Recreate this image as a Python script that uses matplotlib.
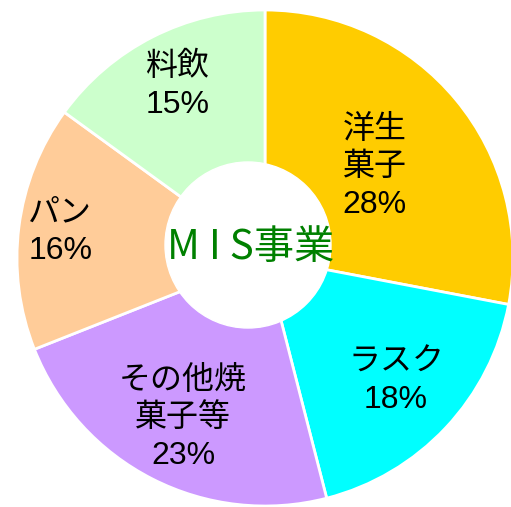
import numpy as np
import matplotlib.pyplot as plt

plt.rcParams['font.family'] = ['Liberation Sans', 'Noto Sans CJK JP', 'DejaVu Sans']

labels = ["洋生\n菓子", "ラスク", "その他焼\n菓子等", "パン", "料飲"]
shares = [28, 18, 23, 16, 15]
colors = ["#FFCC00", "#00FFFF", "#CC99FF", "#FFCC99", "#CCFFCC"]
center_label = "M I S事業"

W, H = 511, 507
fig = plt.figure(figsize=(W / 100, H / 100), dpi=100)
ax = fig.add_axes([0, 0, 1, 1])

cx, cy, R = 265, H - 258, 248
wedges, _ = ax.pie(shares, colors=colors, startangle=90, counterclock=False,
                   center=(cx, cy), radius=R, frame=True,
                   wedgeprops=dict(edgecolor='white', linewidth=2))
ax.set_xlim(0, W)
ax.set_ylim(0, H)
ax.set_aspect('equal')
ax.axis('off')

# hole, slightly off-centre like the original
ax.add_patch(plt.Circle((248, H - 245), 83, color='white', zorder=3))
ax.text(251, H - 248, center_label, color='#008000', fontsize=29,
        family=['Noto Sans CJK JP'],
        ha='center', va='center', zorder=4)

rfrac = [0.573, 0.725, 0.726, 0.832, 0.78]
for w, lab, s, rf in zip(wedges, labels, shares, rfrac):
    ang = np.deg2rad((w.theta1 + w.theta2) / 2)
    x = cx + R * rf * np.cos(ang)
    y = cy + R * rf * np.sin(ang)
    ax.text(x, y, f"{lab}\n{s}%", fontsize=23, ha='center', va='center',
            linespacing=1.33, zorder=4)

fig.savefig("out.png", dpi=100)
